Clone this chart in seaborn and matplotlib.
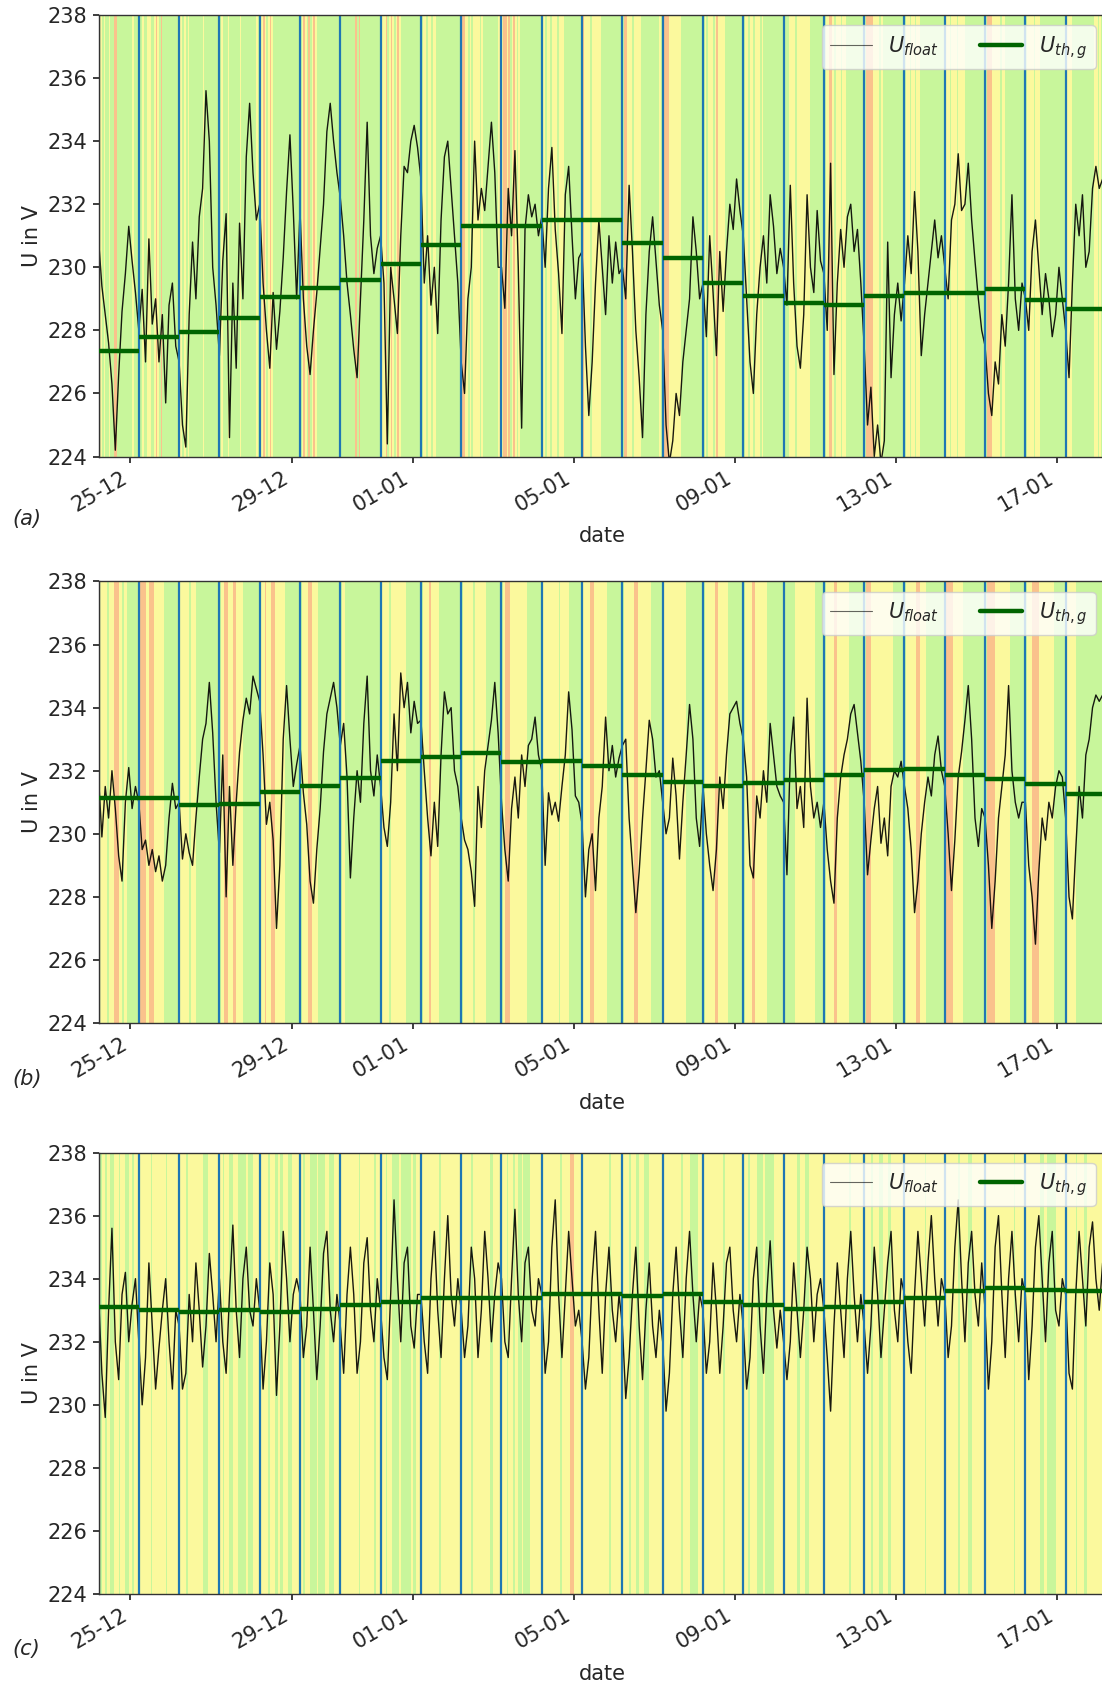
"""Floating voltage U_float vs. daily threshold U_th,g at three grid nodes."""

import matplotlib
matplotlib.use("Agg")
import matplotlib.dates as mdates
import matplotlib.pyplot as plt
import pandas as pd
import seaborn as sns

START = pd.Timestamp("2019-12-24 05:00")   # first day boundary (blue line)
N_DAYS = 25

# 2-hourly readings of U_float in V, one row per day (day runs 05:00 -> 05:00)
U_FLOAT_A = [
    [230.9, 229.4, 228.5, 227.6, 226.3, 224.2, 226.6, 228.6, 229.8, 231.3, 230.2, 229.2],
    [228.0, 229.3, 227.0, 230.9, 228.2, 229.0, 227.0, 228.5, 225.7, 228.8, 229.5, 227.5],
    [227.0, 225.0, 224.3, 228.5, 230.8, 229.0, 231.6, 232.5, 235.6, 234.0, 230.0, 228.8],
    [227.2, 230.2, 231.7, 224.6, 229.5, 226.8, 231.4, 229.0, 233.5, 235.2, 233.0, 231.5],
    [232.0, 229.5, 228.0, 226.8, 229.2, 227.4, 228.6, 230.3, 232.4, 234.2, 231.8, 229.0],
    [231.8, 229.0, 227.5, 226.6, 228.0, 229.2, 230.6, 232.0, 234.3, 235.2, 234.0, 233.0],
    [232.2, 231.0, 229.5, 228.5, 227.4, 226.5, 229.0, 231.5, 234.6, 231.0, 229.8, 230.6],
    [231.0, 229.5, 224.4, 230.0, 229.0, 227.9, 231.0, 233.2, 233.0, 234.0, 234.5, 233.8],
    [232.8, 229.5, 231.0, 228.8, 230.0, 227.9, 231.5, 233.5, 234.0, 232.5, 231.0, 229.5],
    [227.0, 226.0, 229.0, 230.0, 234.0, 231.5, 232.5, 231.8, 233.2, 234.6, 233.0, 230.0],
    [230.0, 228.7, 232.5, 231.0, 233.7, 230.0, 224.9, 231.2, 232.3, 231.6, 232.0, 231.0],
    [231.6, 230.0, 232.5, 233.8, 231.2, 229.8, 227.9, 232.3, 233.2, 231.0, 229.0, 230.3],
    [230.5, 227.5, 225.3, 227.0, 229.5, 231.5, 230.0, 228.5, 231.0, 229.5, 230.8, 229.8],
    [230.0, 229.0, 232.6, 230.5, 228.0, 226.5, 224.6, 228.5, 230.5, 231.6, 230.2, 228.8],
    [228.0, 225.0, 223.8, 224.5, 226.0, 225.3, 227.0, 228.0, 229.0, 231.6, 230.5, 229.0],
    [229.5, 227.8, 231.0, 229.2, 227.2, 230.5, 228.6, 230.5, 232.0, 231.2, 232.8, 231.8],
    [231.0, 229.0, 227.0, 226.0, 228.5, 230.0, 231.0, 229.5, 232.3, 231.3, 229.8, 230.6],
    [230.0, 228.8, 232.6, 229.5, 227.5, 226.8, 228.5, 232.3, 230.0, 229.2, 231.8, 230.2],
    [229.8, 228.0, 233.3, 226.6, 229.5, 231.2, 230.0, 231.6, 232.0, 230.5, 231.2, 229.5],
    [227.5, 225.0, 226.2, 224.0, 225.0, 223.8, 224.5, 230.8, 226.5, 228.5, 229.5, 228.3],
    [229.5, 231.0, 229.8, 232.4, 230.5, 227.2, 228.5, 229.5, 230.5, 231.5, 230.3, 231.0],
    [230.0, 229.0, 231.5, 232.0, 233.6, 231.8, 232.0, 233.3, 231.5, 230.2, 229.0, 228.0],
    [227.5, 226.0, 225.3, 227.0, 226.3, 228.5, 227.5, 229.5, 232.3, 229.0, 228.0, 229.5],
    [229.0, 228.0, 230.5, 231.5, 230.0, 228.5, 229.8, 229.0, 227.8, 228.5, 230.0, 229.0],
    [228.0, 226.5, 229.5, 232.0, 231.0, 232.3, 230.0, 230.5, 232.5, 233.2, 232.5, 232.8],
]
U_FLOAT_B = [
    [231.8, 229.9, 231.5, 230.5, 232.0, 230.8, 229.3, 228.5, 231.0, 232.1, 230.8, 231.5],
    [231.0, 229.5, 229.8, 229.0, 229.5, 228.8, 229.3, 228.5, 229.0, 230.5, 231.6, 230.8],
    [231.0, 229.2, 230.0, 229.4, 229.0, 230.5, 231.8, 233.0, 233.5, 234.8, 233.2, 231.0],
    [229.4, 232.5, 228.0, 231.5, 229.0, 231.0, 232.6, 233.6, 234.3, 233.8, 235.0, 234.6],
    [234.2, 232.5, 230.3, 231.0, 229.8, 227.0, 229.0, 233.0, 234.7, 233.0, 231.5, 232.2],
    [232.8, 231.3, 230.3, 228.5, 227.8, 229.5, 230.8, 232.6, 233.8, 234.3, 234.8, 234.0],
    [232.8, 233.5, 231.8, 228.6, 230.5, 232.0, 231.0, 233.5, 235.0, 232.0, 231.2, 232.5],
    [231.5, 230.2, 229.6, 231.0, 233.8, 232.0, 235.1, 234.0, 234.8, 233.2, 234.2, 233.5],
    [233.6, 232.0, 230.5, 229.3, 231.0, 229.6, 232.5, 234.5, 233.8, 234.0, 232.0, 231.5],
    [230.5, 229.8, 229.5, 228.8, 227.7, 231.5, 230.2, 232.0, 232.8, 233.6, 234.8, 233.2],
    [231.0, 229.5, 228.5, 230.8, 231.8, 230.5, 232.5, 231.5, 232.8, 233.0, 233.7, 232.5],
    [232.0, 229.0, 231.3, 230.6, 231.0, 230.4, 231.5, 232.5, 234.5, 233.3, 231.2, 231.0],
    [230.3, 228.0, 229.5, 230.0, 228.2, 230.5, 231.5, 233.7, 232.0, 232.8, 231.8, 232.4],
    [232.8, 233.0, 230.5, 229.0, 227.5, 228.8, 230.5, 232.0, 233.6, 233.0, 231.8, 232.0],
    [231.0, 230.0, 230.5, 232.4, 231.2, 229.2, 231.0, 232.5, 234.1, 233.0, 230.5, 229.6],
    [231.5, 230.0, 229.0, 228.2, 229.5, 231.8, 230.8, 232.5, 233.8, 234.0, 234.2, 233.5],
    [233.0, 231.8, 229.0, 228.6, 231.2, 230.5, 232.0, 231.0, 233.5, 232.5, 231.5, 231.2],
    [231.0, 228.7, 232.5, 233.7, 230.8, 231.5, 230.2, 234.3, 231.5, 230.5, 231.0, 230.2],
    [231.0, 229.5, 228.5, 227.8, 230.5, 231.8, 232.5, 233.0, 233.8, 234.1, 233.2, 232.3],
    [231.0, 228.7, 229.8, 230.8, 231.5, 229.7, 230.5, 229.3, 231.5, 232.0, 231.8, 232.3],
    [231.5, 230.8, 229.5, 227.5, 228.5, 230.0, 231.0, 231.8, 231.2, 232.5, 233.1, 232.0],
    [231.5, 230.0, 228.2, 229.8, 231.8, 232.6, 233.6, 234.7, 233.0, 230.5, 229.6, 230.8],
    [230.5, 229.0, 227.0, 228.5, 230.5, 231.5, 232.5, 234.7, 232.0, 231.0, 230.5, 231.0],
    [231.0, 229.0, 228.0, 226.5, 228.8, 230.5, 229.8, 231.0, 230.5, 231.5, 232.0, 231.8],
    [230.5, 228.0, 227.3, 229.5, 231.5, 230.5, 232.5, 233.0, 234.0, 234.4, 234.2, 234.4],
]
U_FLOAT_C = [
    [233.5, 231.0, 229.6, 233.0, 235.6, 232.0, 230.8, 233.5, 234.2, 232.0, 233.2, 234.0],
    [232.0, 230.0, 231.5, 234.5, 232.5, 230.5, 231.8, 233.0, 234.0, 232.0, 230.5, 233.0],
    [232.5, 230.5, 231.0, 233.5, 232.0, 234.5, 233.0, 231.2, 232.5, 234.8, 233.5, 232.0],
    [234.0, 232.0, 231.0, 233.5, 235.7, 233.0, 231.5, 234.0, 235.0, 233.0, 232.5, 234.0],
    [233.0, 230.5, 232.0, 234.5, 233.5, 230.3, 232.5, 235.5, 234.0, 232.0, 233.5, 234.0],
    [233.5, 231.5, 232.5, 235.0, 233.0, 230.8, 232.5, 234.8, 235.5, 233.0, 232.0, 233.5],
    [232.5, 231.0, 233.5, 235.0, 233.5, 231.0, 232.0, 234.5, 235.3, 233.0, 232.0, 234.0],
    [233.0, 231.5, 230.8, 233.5, 236.5, 234.0, 232.0, 234.5, 235.0, 232.5, 231.8, 233.5],
    [233.5, 232.0, 231.0, 234.0, 235.5, 233.0, 231.5, 234.0, 236.0, 233.5, 232.5, 234.0],
    [233.0, 231.5, 232.5, 235.0, 234.0, 231.5, 233.0, 235.5, 234.0, 232.0, 233.5, 234.5],
    [234.0, 232.0, 231.5, 234.0, 236.2, 233.5, 232.0, 234.5, 235.0, 233.0, 232.5, 234.0],
    [233.5, 231.0, 232.0, 235.0, 236.5, 233.5, 231.5, 233.5, 235.5, 234.0, 232.5, 233.0],
    [232.0, 230.5, 231.5, 234.0, 235.5, 233.0, 231.0, 233.5, 235.0, 233.0, 232.0, 233.5],
    [232.5, 230.2, 231.5, 233.5, 235.0, 232.5, 230.8, 233.0, 234.5, 232.5, 231.5, 233.0],
    [232.0, 229.8, 231.0, 233.5, 235.0, 233.0, 231.5, 234.0, 235.5, 233.5, 232.0, 233.5],
    [233.0, 231.0, 232.0, 234.5, 233.0, 231.0, 232.5, 234.5, 235.0, 233.0, 232.0, 233.5],
    [232.5, 230.5, 231.5, 234.0, 235.0, 232.5, 231.0, 233.5, 235.2, 233.0, 231.8, 233.0],
    [232.0, 230.8, 232.0, 234.5, 233.0, 231.5, 233.0, 235.0, 234.0, 232.0, 233.5, 234.0],
    [233.0, 231.5, 229.8, 232.5, 234.5, 233.0, 231.5, 234.0, 235.5, 233.5, 232.0, 233.5],
    [232.5, 231.0, 232.5, 235.0, 233.5, 231.5, 233.0, 234.5, 235.5, 233.0, 232.0, 234.0],
    [233.5, 232.0, 231.0, 233.5, 235.5, 234.0, 232.5, 234.5, 236.0, 234.0, 232.5, 234.0],
    [233.5, 231.5, 232.5, 235.0, 236.5, 234.0, 232.0, 234.5, 235.5, 233.5, 232.5, 234.5],
    [233.0, 230.5, 232.0, 235.0, 236.0, 233.5, 231.5, 234.0, 235.5, 233.5, 232.0, 234.0],
    [233.5, 230.8, 232.5, 235.0, 236.0, 234.0, 232.0, 234.5, 235.5, 233.0, 232.5, 234.0],
    [233.5, 231.0, 230.5, 233.5, 235.5, 234.0, 232.5, 235.0, 235.8, 234.0, 233.0, 234.5],
]

# daily threshold U_th,g in V
U_TH_A = [227.36, 227.8, 227.96, 228.38, 229.07, 229.35, 229.6, 230.1, 230.7, 231.3,
          231.3, 231.5, 231.5, 230.76, 230.3, 229.5, 229.1, 228.86, 228.8, 229.1,
          229.2, 229.2, 229.3, 228.96, 228.68]
U_TH_B = [231.12, 231.12, 230.9, 230.94, 231.34, 231.52, 231.77, 232.32, 232.42, 232.55,
          232.29, 232.32, 232.16, 231.87, 231.65, 231.52, 231.62, 231.69, 231.87, 232.03,
          232.07, 231.88, 231.73, 231.59, 231.25]
U_TH_C = [233.1, 233.0, 232.95, 233.0, 232.95, 233.05, 233.15, 233.25, 233.4, 233.4,
          233.4, 233.5, 233.5, 233.45, 233.5, 233.25, 233.15, 233.05, 233.1, 233.25,
          233.4, 233.6, 233.7, 233.65, 233.6]

# hourly grid state per day: g = normal, y = warning, r = critical
STATE_A = [
    "gygyggyggrrgggggggggyggg", "ggyggyyggyrygrgggggggggg", "yygygyggggggggyggggggggg",
    "gygggyggggggygggggggggyg", "gyrygyrygggggggggggggggg", "gyrygrgyrygggggggggggggg",
    "gggggggggrgrgggggggggggg", "gyyrgyrygyrygggggggggggg", "gyygyygyyggggggggggggggg",
    "rryygygyyyygygggggggggyg", "yrryrgyrygyggggggggggggg", "gygyygyyygyyyggggggggggg",
    "ryyyygyyyyyggggggggggggg", "grryyygyyyygggggggggggyg", "grrryyyyyyyggggggggggggg",
    "gygyyygyryyyyggggggggggg", "gyygyygyyygygggggggggggg", "gggyyyygyyyyyyyygggggggg",
    "gyyrrygyyygyyggggggggggg", "grrrryyyygyggggggggggggg", "gyygyygyyggggggggggggggg",
    "gyygyyygyyyygggggggggggg", "grrryyyyygyygggggggggggg", "gyyyygyyyggggggggggggggg",
    "gyyygggggggggggggyygyggg",
]
STATE_B = [
    "gyyyygyyyrrryygyyggggggg", "grrryyrrryyyyyyggggggggg", "yyyyyygyyygggggggggggggg",
    "gyyrryyyrryyyygggggggggg", "gyyryyyrryyyyyyggggggggg", "gyyyyrryyyyggggggggggggg",
    "gyyggggggggggggggggggggg", "gyyyygyyyyyyyyyggggggggg", "gyyyyryyyyyggggggggggggg",
    "gyyyyyygyyyyyyyggggggggg", "gyrrryyyyyyyyyyggggggggg", "gyyyyyyyyygyyyyygggggggg",
    "yyyyyrryyyyyyyyggggggggg", "gyyyyyyrryyyyyyyyggggggg", "gyyyyyyyyyyyyygggggggggg",
    "gyyyyyyrryyyyyyggggggggg", "gyyyyrryyyyyyygggggggggg", "gggggggyyyyyyyyyyyyggggg",
    "gyyyyyrryyyyyyyggggggggg", "grrryyyyyyyyyyyyyggggggg", "gyyyyyyrryyyyggggggggggg",
    "grrrryyyyyyggggggggggggg", "grrrrryyyyyyyyyggggggggg", "gyyyrrrryyyyyyyyyggggggg",
    "gyyyyygggggggggggggggggg",
]
STATE_C = [
    "ygyygyyggyyygyyyggyygyyy", "yyyyyyygyyyyyyyygyyyyyyy", "yyyygyyyyyyyyygggyyyyyyy",
    "yygyyyggyyygggggygggyyyy", "yyyyygyyyggyggyyyggyyyyy", "yygyyyggggyggggyygggyyyy",
    "yyyyyyyyyyygyyyyyyyygyyy", "yyygyyyggggyggggggyggyyy", "yyyyyyyyyyygyyyyyyyyyyyy",
    "yyyyyygyyyyyyyyyyggyyyyy", "yyygyyygyyggyggggyyyyyyy", "yyyyyyyyyyygyyyyyrryyyyy",
    "yyyyyyyyyyyyyyyygyyyyyyy", "yyyygyyyggyyygggyyyyyyyy", "yyyyyyyyyyygyyyygggggyyy",
    "yyyyyyyyyyyygyyyyyyyyyyy", "yyygyyyyggggygggggyyyyyy", "yyyyyyyyggyyyggyyyyyyyyy",
    "yyyyyyyyyyyyyyygyyyyyyyy", "yyyygyyyyggyyyggyyyyyyyy", "yyyyyyyyyyyygyyyyyyyyyyy",
    "yyyyyyyygyyyyyggyyyyyyyy", "yyyyyyyyyyyyyyyyygyyyyyy", "yyyyyyyyyggyygggggyyyyyy",
    "yyyyyygyyyyggyyyyyyyyyyy",
]

STATE_COLORS = {"g": "#c8f69b", "y": "#fbf99d", "r": "#fac28c"}

sns.set_theme(style="ticks")
plt.rcParams.update({
    "font.family": ["DejaVu Sans"],
    "font.size": 15,
    "axes.labelsize": 15,
    "xtick.labelsize": 15,
    "ytick.labelsize": 15,
    "legend.fontsize": 15,
    "axes.edgecolor": "#333333",
    "axes.linewidth": 1.0,
    "xtick.major.size": 4.5,
    "ytick.major.size": 4.5,
    "mathtext.fontset": "dejavusans",
})


def draw_panel(ax, u_float, u_th, states):
    days = pd.date_range(START, periods=N_DAYS + 1, freq="D")
    day_num = mdates.date2num(days.to_pydatetime())

    # background: grid state per hour, merged into runs
    for d, s in enumerate(states):
        slot = 1.0 / len(s)
        j = 0
        for i in range(1, len(s) + 1):
            if i == len(s) or s[i] != s[j]:
                ax.axvspan(day_num[d] + j * slot, day_num[d] + i * slot,
                           color=STATE_COLORS[s[j]], lw=0, zorder=0)
                j = i

    rows = []
    for d, vals in enumerate(u_float):
        step = pd.Timedelta(days=1) / len(vals)
        for i, v in enumerate(vals):
            rows.append((days[d] + i * step, v))
    df = pd.DataFrame(rows, columns=["time", "u"])
    sns.lineplot(data=df, x="time", y="u", ax=ax, color="black", lw=1.0,
                 alpha=0.9, estimator=None, zorder=2)

    for x in day_num[:-1]:
        ax.axvline(x, color="#1f77b4", lw=1.6, zorder=2.5)
    ax.hlines(u_th, day_num[:-1], day_num[1:], colors="darkgreen", lw=3.2, zorder=3)

    ax.set_xlim(day_num[0], day_num[-1])
    ax.set_ylim(224, 238)
    ax.set_yticks(range(224, 239, 2))
    ax.xaxis.set_major_locator(mdates.DayLocator(bymonthday=[1, 5, 9, 13, 17, 21, 25, 29]))
    ax.xaxis.set_major_formatter(mdates.DateFormatter("%d-%m"))
    plt.setp(ax.get_xticklabels(), rotation=30, ha="right")
    ax.set_xlabel("date", labelpad=8)
    ax.set_ylabel("U in V")

    handles = [
        plt.Line2D([], [], color="black", lw=0.8, alpha=0.6),
        plt.Line2D([], [], color="darkgreen", lw=3.2),
    ]
    ax.legend(handles, [r"$U_{float}$", r"$U_{th,g}$"], loc="upper right", ncol=2,
              framealpha=0.8, fancybox=True)


fig = plt.figure(figsize=(11.02, 16.84), dpi=100)
panels = [
    (U_FLOAT_A, U_TH_A, STATE_A, 0.7289, "(a)", 0.6918),
    (U_FLOAT_B, U_TH_B, STATE_B, 0.3925, "(b)", 0.3590),
    (U_FLOAT_C, U_TH_C, STATE_C, 0.0534, "(c)", 0.0208),
]
for u_float, u_th, states, bottom, tag, tag_y in panels:
    ax = fig.add_axes([0.0894, bottom, 0.9142, 0.2622])
    draw_panel(ax, u_float, u_th, states)
    fig.text(0.0113, tag_y, tag, fontsize=15, style="italic", va="center", ha="left")

fig.savefig("out.png", dpi=100)
plt.close(fig)
